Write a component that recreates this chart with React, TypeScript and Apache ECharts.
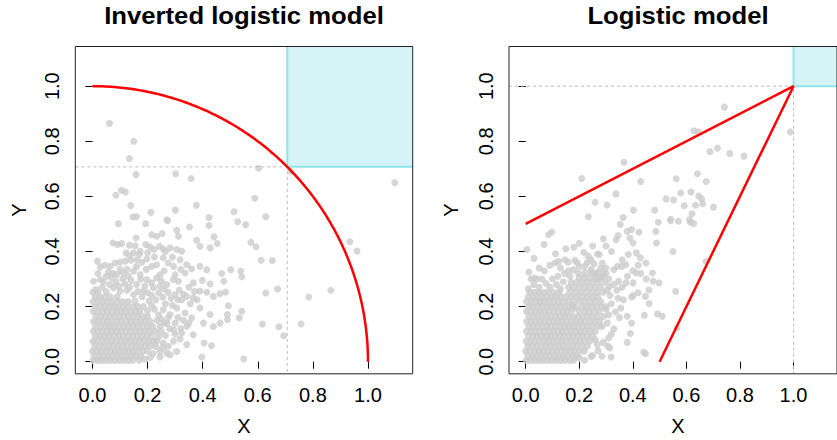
import React, { useEffect, useRef } from "react";
import * as echarts from "echarts";

// ---------- data ----------
const tickValues = [0, 0.2, 0.4, 0.6, 0.8, 1.0];
const xMin = -0.0623;
const xMax = 1.1623;
const yMin = -0.044;
const yMax = 1.144;
const leftThreshold = Math.SQRT1_2;
const rightThreshold = 1;
const rightLineX = [0, 1, 0.5];
const rightLineY = [0.5, 1, 0];

const leftOuter: number[][] = [
  [0.062, 0.865], [0.150, 0.800], [0.134, 0.737], [0.158, 0.679], [0.302, 0.682], [0.358, 0.665], [0.603, 0.702], [0.720, 0.690], [1.097, 0.650],
  [0.085, 0.604], [0.105, 0.622], [0.120, 0.616], [0.139, 0.567], [0.212, 0.542], [0.301, 0.550], [0.377, 0.568], [0.589, 0.593], [0.514, 0.544], [0.629, 0.526], [0.147, 0.525], [0.160, 0.527], [0.423, 0.523], [0.270, 0.515],
  [0.094, 0.501], [0.193, 0.501], [0.273, 0.512], [0.352, 0.489], [0.423, 0.494], [0.306, 0.477], [0.312, 0.455], [0.158, 0.449], [0.253, 0.465], [0.233, 0.455], [0.215, 0.461], [0.527, 0.508], [0.556, 0.497],
  [0.074, 0.431], [0.091, 0.425], [0.106, 0.429], [0.134, 0.423], [0.155, 0.421], [0.173, 0.401], [0.193, 0.425], [0.209, 0.417], [0.223, 0.407], [0.243, 0.419], [0.257, 0.409], [0.282, 0.413], [0.306, 0.407], [0.324, 0.401], [0.122, 0.395], [0.149, 0.395], [0.170, 0.389], [0.378, 0.441], [0.390, 0.419], [0.427, 0.413], [0.441, 0.453], [0.453, 0.429], [0.575, 0.433], [0.594, 0.417],
  [0.028, 0.344], [0.018, 0.365], [0.064, 0.346], [0.082, 0.358], [0.100, 0.361], [0.119, 0.365], [0.139, 0.368], [0.161, 0.370], [0.179, 0.361], [0.197, 0.373], [0.215, 0.346], [0.233, 0.352], [0.257, 0.377], [0.275, 0.358], [0.294, 0.346], [0.318, 0.370], [0.342, 0.352], [0.360, 0.337], [0.390, 0.346], [0.415, 0.334], [0.469, 0.320], [0.502, 0.334], [0.538, 0.329], [0.612, 0.368], [0.653, 0.367],
  [0.004, 0.292], [0.028, 0.298], [0.050, 0.310], [0.070, 0.304], [0.088, 0.316], [0.112, 0.322], [0.130, 0.310], [0.149, 0.328], [0.173, 0.316], [0.197, 0.298], [0.215, 0.286], [0.233, 0.304], [0.251, 0.292], [0.270, 0.280], [0.294, 0.298], [0.312, 0.292], [0.336, 0.322], [0.366, 0.286], [0.399, 0.295], [0.427, 0.282], [0.477, 0.292], [0.542, 0.308],
  [0.076, 0.268], [0.100, 0.256], [0.125, 0.259], [0.149, 0.243], [0.185, 0.256], [0.221, 0.268], [0.245, 0.274], [0.275, 0.252], [0.300, 0.243], [0.324, 0.225], [0.342, 0.237], [0.366, 0.231], [0.390, 0.256], [0.415, 0.252], [0.439, 0.237], [0.463, 0.247], [0.483, 0.253], [0.493, 0.203], [0.629, 0.249], [0.672, 0.264],
  [0.257, 0.189], [0.282, 0.171], [0.306, 0.195], [0.336, 0.177], [0.360, 0.159], [0.390, 0.195], [0.427, 0.171], [0.490, 0.171], [0.533, 0.159], [0.542, 0.183], [0.617, 0.137],
  [0.245, 0.128], [0.270, 0.140], [0.294, 0.116], [0.324, 0.104], [0.342, 0.128], [0.366, 0.098], [0.403, 0.140], [0.439, 0.128], [0.463, 0.140], [0.490, 0.153], [0.677, 0.127], [0.694, 0.094],
  [0.233, 0.074], [0.257, 0.068], [0.275, 0.056], [0.294, 0.074], [0.318, 0.082], [0.342, 0.062], [0.405, 0.068], [0.432, 0.058], [0.245, 0.037], [0.270, 0.031], [0.306, 0.037], [0.245, 0.017], [0.282, 0.025], [0.397, 0.017], [0.549, 0.010],
  [0.785, 0.235], [0.865, 0.259], [0.757, 0.137], [0.934, 0.435], [0.960, 0.402],
];

const leftMid: number[][] = [
  [0.012, 0.262], [0.035, 0.270], [0.050, 0.255], [0.062, 0.280], [0.040, 0.290], [0.058, 0.325], [0.085, 0.290], [0.095, 0.275], [0.110, 0.300], [0.118, 0.282],
  [0.135, 0.270], [0.140, 0.295], [0.160, 0.280], [0.165, 0.255], [0.180, 0.235], [0.175, 0.300], [0.190, 0.275], [0.200, 0.250], [0.205, 0.220], [0.215, 0.240],
  [0.230, 0.225], [0.240, 0.250], [0.255, 0.235], [0.260, 0.265], [0.265, 0.210], [0.285, 0.230], [0.290, 0.205], [0.310, 0.225], [0.315, 0.260], [0.330, 0.245],
  [0.350, 0.270], [0.355, 0.210], [0.370, 0.255], [0.380, 0.225], [0.300, 0.315], [0.320, 0.335], [0.260, 0.330], [0.245, 0.315], [0.195, 0.335], [0.160, 0.345],
  [0.125, 0.335], [0.100, 0.335], [0.075, 0.320], [0.045, 0.350], [0.020, 0.320], [0.135, 0.385], [0.200, 0.395], [0.265, 0.400], [0.290, 0.380], [0.225, 0.380],
  [0.225, 0.190], [0.240, 0.170], [0.235, 0.150], [0.250, 0.155], [0.260, 0.140], [0.275, 0.160], [0.250, 0.110], [0.265, 0.095], [0.280, 0.120], [0.300, 0.140],
  [0.310, 0.160], [0.240, 0.090], [0.255, 0.050], [0.220, 0.030], [0.210, 0.015], [0.190, 0.010], [0.170, 0.005], [0.300, 0.100], [0.320, 0.120], [0.330, 0.150],
  [0.350, 0.140], [0.230, 0.055], [0.215, 0.205], [0.200, 0.185], [0.185, 0.200], [0.165, 0.200], [0.155, 0.220],
];

const leftCoreRows: [number, number[]][] = [
  [0.004, [0.002, 0.018, 0.034, 0.05, 0.066, 0.082, 0.098, 0.114, 0.13, 0.146]],
  [0.020, [0.006, 0.024, 0.04, 0.057, 0.073, 0.09, 0.106, 0.123, 0.14, 0.157, 0.175]],
  [0.038, [0.0, 0.016, 0.032, 0.049, 0.065, 0.082, 0.098, 0.115, 0.132, 0.148, 0.165, 0.183, 0.2]],
  [0.056, [0.008, 0.025, 0.042, 0.058, 0.075, 0.092, 0.108, 0.125, 0.142, 0.158, 0.175, 0.192, 0.21]],
  [0.074, [0.002, 0.019, 0.036, 0.053, 0.07, 0.086, 0.103, 0.12, 0.137, 0.154, 0.17, 0.187, 0.205, 0.222]],
  [0.092, [0.01, 0.027, 0.044, 0.061, 0.078, 0.095, 0.112, 0.129, 0.146, 0.163, 0.18, 0.197, 0.215]],
  [0.110, [0.003, 0.02, 0.037, 0.054, 0.071, 0.088, 0.105, 0.122, 0.139, 0.156, 0.173, 0.19, 0.208, 0.228]],
  [0.128, [0.011, 0.028, 0.045, 0.062, 0.079, 0.096, 0.113, 0.13, 0.147, 0.164, 0.181, 0.2, 0.218]],
  [0.146, [0.004, 0.021, 0.038, 0.055, 0.072, 0.089, 0.106, 0.123, 0.14, 0.157, 0.174, 0.192, 0.21]],
  [0.164, [0.012, 0.029, 0.046, 0.063, 0.08, 0.097, 0.114, 0.131, 0.148, 0.165, 0.183, 0.2]],
  [0.182, [0.003, 0.02, 0.037, 0.054, 0.071, 0.088, 0.105, 0.122, 0.139, 0.156, 0.172]],
  [0.200, [0.01, 0.027, 0.044, 0.061, 0.078, 0.095, 0.112, 0.13, 0.15]],
  [0.218, [0.002, 0.019, 0.036, 0.053, 0.07, 0.09, 0.11, 0.13]],
  [0.236, [0.01, 0.027, 0.045, 0.065, 0.09]],
  [0.252, [0.002, 0.02]],
];

const rightOuter: number[][] = [
  [0.742, 0.924], [0.628, 0.838], [0.645, 0.834], [0.988, 0.834], [0.688, 0.763], [0.716, 0.775], [0.762, 0.756], [0.815, 0.746], [0.367, 0.724], [0.209, 0.665], [0.429, 0.654], [0.562, 0.664], [0.641, 0.682], [0.674, 0.654], [0.337, 0.609], [0.259, 0.579], [0.304, 0.569], [0.402, 0.550], [0.482, 0.550], [0.524, 0.591], [0.552, 0.587], [0.579, 0.612], [0.617, 0.616], [0.646, 0.601], [0.657, 0.591], [0.592, 0.566], [0.634, 0.568], [0.661, 0.573], [0.701, 0.561], [0.621, 0.537], [0.234, 0.526], [0.364, 0.523], [0.541, 0.517], [0.612, 0.516],
  [0.005, 0.407], [0.085, 0.461], [0.097, 0.470], [0.069, 0.425], [0.031, 0.375], [0.012, 0.325], [0.033, 0.304], [0.041, 0.300], [0.111, 0.392], [0.109, 0.358], [0.123, 0.364], [0.147, 0.370], [0.159, 0.361], [0.180, 0.415], [0.184, 0.368], [0.193, 0.358], [0.217, 0.397], [0.234, 0.383], [0.244, 0.370], [0.268, 0.391], [0.290, 0.446], [0.345, 0.458], [0.338, 0.443], [0.353, 0.498], [0.379, 0.473], [0.395, 0.480], [0.389, 0.449], [0.401, 0.431], [0.423, 0.470], [0.486, 0.473], [0.488, 0.431], [0.495, 0.506], [0.541, 0.512], [0.570, 0.510], [0.615, 0.506], [0.627, 0.501], [0.550, 0.400], [0.560, 0.255], [0.674, 0.364], [0.510, 0.165], [0.492, 0.173], [0.565, 0.122], [0.447, 0.237], [0.443, 0.168], [0.461, 0.211], [0.395, 0.235], [0.401, 0.240], [0.379, 0.165], [0.395, 0.140], [0.391, 0.102], [0.379, 0.070], [0.441, 0.034], [0.447, 0.029], [0.314, 0.050], [0.319, 0.017], [0.244, 0.019], [0.250, 0.022], [0.268, 0.062], [0.307, 0.056], [0.329, 0.119], [0.310, 0.086], [0.341, 0.259], [0.365, 0.225], [0.355, 0.195], [0.347, 0.292], [0.329, 0.334], [0.343, 0.346], [0.359, 0.346], [0.374, 0.352], [0.383, 0.389], [0.413, 0.395], [0.428, 0.377], [0.449, 0.358], [0.473, 0.322], [0.476, 0.292], [0.498, 0.286], [0.413, 0.322], [0.401, 0.286], [0.374, 0.286], [0.312, 0.274], [0.329, 0.280],
  [0.178, 0.334], [0.196, 0.322], [0.220, 0.346], [0.244, 0.334], [0.262, 0.322], [0.286, 0.358], [0.275, 0.389], [0.300, 0.340], [0.290, 0.310], [0.270, 0.300],
];

const rightMid: number[][] = [
  [0.010, 0.265], [0.030, 0.280], [0.050, 0.270], [0.020, 0.300], [0.060, 0.300], [0.075, 0.285], [0.090, 0.270], [0.100, 0.300], [0.115, 0.280], [0.130, 0.265],
  [0.120, 0.310], [0.140, 0.290], [0.145, 0.320], [0.070, 0.330], [0.090, 0.350], [0.050, 0.340], [0.130, 0.340], [0.160, 0.330], [0.165, 0.310], [0.200, 0.345],
  [0.230, 0.360], [0.255, 0.355], [0.280, 0.340], [0.300, 0.320], [0.310, 0.300], [0.305, 0.260], [0.315, 0.240], [0.320, 0.210], [0.300, 0.190], [0.310, 0.170],
  [0.305, 0.140], [0.320, 0.100], [0.290, 0.070], [0.270, 0.040], [0.285, 0.020], [0.220, 0.005], [0.200, 0.015], [0.180, 0.005], [0.260, 0.080], [0.335, 0.180],
  [0.350, 0.160], [0.345, 0.230], [0.360, 0.270], [0.380, 0.310], [0.400, 0.330], [0.420, 0.350], [0.360, 0.370], [0.320, 0.400], [0.300, 0.420], [0.250, 0.420],
  [0.200, 0.430], [0.150, 0.410], [0.430, 0.320], [0.450, 0.300], [0.420, 0.250], [0.460, 0.260], [0.172, 0.188], [0.186, 0.195], [0.178, 0.205],
];

const rightCoreRows: [number, number[]][] = [
  [0.004, [0.002, 0.018, 0.034, 0.05, 0.066, 0.082, 0.098, 0.114, 0.13, 0.146, 0.165]],
  [0.020, [0.008, 0.025, 0.041, 0.058, 0.074, 0.09, 0.107, 0.123, 0.14, 0.157, 0.175, 0.19]],
  [0.038, [0.0, 0.016, 0.033, 0.05, 0.066, 0.083, 0.1, 0.116, 0.133, 0.15, 0.166, 0.183, 0.2, 0.218]],
  [0.056, [0.008, 0.025, 0.041, 0.058, 0.075, 0.091, 0.108, 0.125, 0.141, 0.158, 0.175, 0.192, 0.21, 0.23]],
  [0.074, [0.002, 0.019, 0.035, 0.052, 0.069, 0.085, 0.102, 0.119, 0.135, 0.152, 0.169, 0.186, 0.203, 0.22, 0.24]],
  [0.092, [0.01, 0.027, 0.043, 0.06, 0.077, 0.093, 0.11, 0.127, 0.143, 0.16, 0.177, 0.194, 0.212, 0.23, 0.25]],
  [0.110, [0.003, 0.02, 0.036, 0.053, 0.07, 0.086, 0.103, 0.12, 0.136, 0.153, 0.17, 0.187, 0.204, 0.222, 0.24, 0.26]],
  [0.128, [0.011, 0.028, 0.044, 0.061, 0.078, 0.094, 0.111, 0.128, 0.144, 0.161, 0.178, 0.195, 0.212, 0.23, 0.25, 0.27, 0.285]],
  [0.146, [0.004, 0.021, 0.037, 0.054, 0.071, 0.087, 0.104, 0.121, 0.137, 0.154, 0.171, 0.188, 0.205, 0.222, 0.24, 0.258, 0.276]],
  [0.164, [0.012, 0.029, 0.045, 0.062, 0.079, 0.095, 0.112, 0.129, 0.145, 0.162, 0.179, 0.196, 0.213, 0.23, 0.248, 0.266, 0.29]],
  [0.182, [0.003, 0.02, 0.037, 0.054, 0.071, 0.088, 0.105, 0.122, 0.139, 0.156, 0.2, 0.22, 0.237, 0.255, 0.275]],
  [0.200, [0.011, 0.028, 0.045, 0.062, 0.079, 0.096, 0.113, 0.13, 0.147, 0.164, 0.21, 0.228, 0.246, 0.265, 0.285, 0.3]],
  [0.218, [0.003, 0.02, 0.037, 0.054, 0.071, 0.088, 0.105, 0.122, 0.139, 0.16, 0.18, 0.2, 0.22, 0.24, 0.26, 0.28]],
  [0.236, [0.01, 0.027, 0.044, 0.061, 0.078, 0.095, 0.112, 0.13, 0.15, 0.17, 0.19, 0.21, 0.23, 0.25, 0.27]],
  [0.252, [0.015, 0.033, 0.05, 0.068, 0.085, 0.105, 0.125, 0.165, 0.185, 0.205, 0.225, 0.245, 0.265, 0.29]],
  [0.270, [0.16, 0.18, 0.2, 0.22, 0.24, 0.26, 0.28]],
  [0.288, [0.17, 0.19, 0.21, 0.23, 0.25, 0.27, 0.295]],
  [0.306, [0.2, 0.22, 0.24, 0.26, 0.28]],
  [0.324, [0.22, 0.245, 0.27, 0.29]],
];

// ---------- helpers ----------
const rowsToPoints = (rows: [number, number[]][]) => {
  const out: number[][] = [];
  rows.forEach(([y, xs]) => xs.forEach((x) => out.push([x, y])));
  return out;
};

const FONT = '"Liberation Sans", Arial, Helvetica, sans-serif';
const GRAY = "#CCCCCC";
const RED = "#FF0000";
const CYAN_FILL = "#D6F4F7";
const CYAN_LINE = "#8EE5EE";
const DASH = "#BDBDBD";

const GRID_TOP = 46.5;
const GRID_H = 327.3;
const GRID_W = 337.4;
const LEFT_GRID_X = 75.3;
const RIGHT_GRID_X = 509;

export default function App() {
  const ref = useRef<HTMLDivElement>(null);

  useEffect(() => {
    if (!ref.current) return;
    const chart = echarts.init(ref.current, undefined, { renderer: "svg" });

    const arc: number[][] = [];
    for (let i = 0; i <= 180; i++) {
      const t = (i / 180) * (Math.PI / 2);
      arc.push([Math.cos(t), Math.sin(t)]);
    }

    const mkX = (gridIndex: number) => ({
      type: "value",
      gridIndex,
      min: xMin,
      max: xMax,
      axisLine: { show: false },
      splitLine: { show: false },
      axisTick: { show: true, length: 7, lineStyle: { color: "#000", width: 1 }, customValues: tickValues },
      axisLabel: {
        customValues: tickValues,
        formatter: (v: number) => v.toFixed(1),
        fontSize: 20,
        fontFamily: FONT,
        color: "#000",
        margin: 11,
      },
    });
    const mkY = (gridIndex: number) => ({
      type: "value",
      gridIndex,
      min: yMin,
      max: yMax,
      axisLine: { show: false },
      splitLine: { show: false },
      axisTick: { show: true, length: 7, lineStyle: { color: "#000", width: 1 }, customValues: tickValues },
      axisLabel: {
        customValues: tickValues,
        formatter: (v: number) => v.toFixed(1),
        fontSize: 20,
        fontFamily: FONT,
        color: "#000",
        rotate: 90,
        margin: 13,
      },
    });

    const cyanRect = (idx: number, t: number) => ({
      type: "custom",
      xAxisIndex: idx,
      yAxisIndex: idx,
      z: 3,
      silent: true,
      data: [[t, t]],
      renderItem: (params: any, api: any) => {
        const p = api.coord([api.value(0), api.value(1)]);
        const cs = params.coordSys;
        const right = cs.x + cs.width;
        const top = cs.y;
        return {
          type: "group",
          children: [
            { type: "rect", shape: { x: p[0], y: top, width: right - p[0], height: p[1] - top }, style: { fill: CYAN_FILL } },
            { type: "line", shape: { x1: p[0], y1: top, x2: p[0], y2: p[1] }, style: { stroke: CYAN_LINE, lineWidth: 2 } },
            { type: "line", shape: { x1: p[0], y1: p[1], x2: right, y2: p[1] }, style: { stroke: CYAN_LINE, lineWidth: 2 } },
          ],
        };
      },
    });

    const dashL = (idx: number, t: number) => ({
      type: "line",
      xAxisIndex: idx,
      yAxisIndex: idx,
      z: 4,
      silent: true,
      symbol: "none",
      data: [[xMin, t], [t, t], [t, yMin]],
      lineStyle: { color: DASH, width: 1, type: [3, 3] },
    });

    const option: any = {
      animation: false,
      grid: [
        { left: LEFT_GRID_X, top: GRID_TOP, width: GRID_W, height: GRID_H, show: true, borderColor: "#222", borderWidth: 1, backgroundColor: "transparent", z: 10 },
        { left: RIGHT_GRID_X, top: GRID_TOP, width: GRID_W, height: GRID_H, show: true, borderColor: "#222", borderWidth: 1, backgroundColor: "transparent", z: 10 },
      ],
      xAxis: [mkX(0), mkX(1)],
      yAxis: [mkY(0), mkY(1)],
      graphic: [
        { type: "text", x: 244, y: 15.5, scaleX: 1.07, style: { text: "Inverted logistic model", font: `bold 24px ${FONT}`, fill: "#000", align: "center", verticalAlign: "middle" } },
        { type: "text", x: 678, y: 15.5, scaleX: 1.07, style: { text: "Logistic model", font: `bold 24px ${FONT}`, fill: "#000", align: "center", verticalAlign: "middle" } },
        { type: "text", x: 244, y: 426, style: { text: "X", font: `20px ${FONT}`, fill: "#000", align: "center", verticalAlign: "middle" } },
        { type: "text", x: 678, y: 426, style: { text: "X", font: `20px ${FONT}`, fill: "#000", align: "center", verticalAlign: "middle" } },
        { type: "text", x: 19, y: 210, rotation: Math.PI / 2, style: { text: "Y", font: `20px ${FONT}`, fill: "#000", align: "center", verticalAlign: "middle" } },
        { type: "text", x: 451, y: 210, rotation: Math.PI / 2, style: { text: "Y", font: `20px ${FONT}`, fill: "#000", align: "center", verticalAlign: "middle" } },
      ],
      series: [
        {
          type: "scatter", xAxisIndex: 0, yAxisIndex: 0, z: 2, silent: true,
          symbol: "circle", symbolSize: 7, itemStyle: { color: GRAY },
          data: [...rowsToPoints(leftCoreRows), ...leftMid, ...leftOuter],
        },
        cyanRect(0, leftThreshold),
        dashL(0, leftThreshold),
        {
          type: "line", xAxisIndex: 0, yAxisIndex: 0, z: 5, silent: true, symbol: "none",
          data: arc, lineStyle: { color: RED, width: 2.5 },
        },
        {
          type: "scatter", xAxisIndex: 1, yAxisIndex: 1, z: 2, silent: true,
          symbol: "circle", symbolSize: 7, itemStyle: { color: GRAY },
          data: [...rowsToPoints(rightCoreRows), ...rightMid, ...rightOuter],
        },
        cyanRect(1, rightThreshold),
        dashL(1, rightThreshold),
        {
          type: "line", xAxisIndex: 1, yAxisIndex: 1, z: 5, silent: true, symbol: "none",
          data: rightLineX.map((x, i) => [x, rightLineY[i]]), lineStyle: { color: RED, width: 2.5 },
        },
      ],
    };

    chart.setOption(option);
    return () => chart.dispose();
  }, []);

  return (
    <div style={{ position: "fixed", left: 0, top: 0, width: 837, height: 440, overflow: "hidden", background: "#fff" }}>
      <div ref={ref} style={{ width: 837, height: 440 }} />
    </div>
  );
}
